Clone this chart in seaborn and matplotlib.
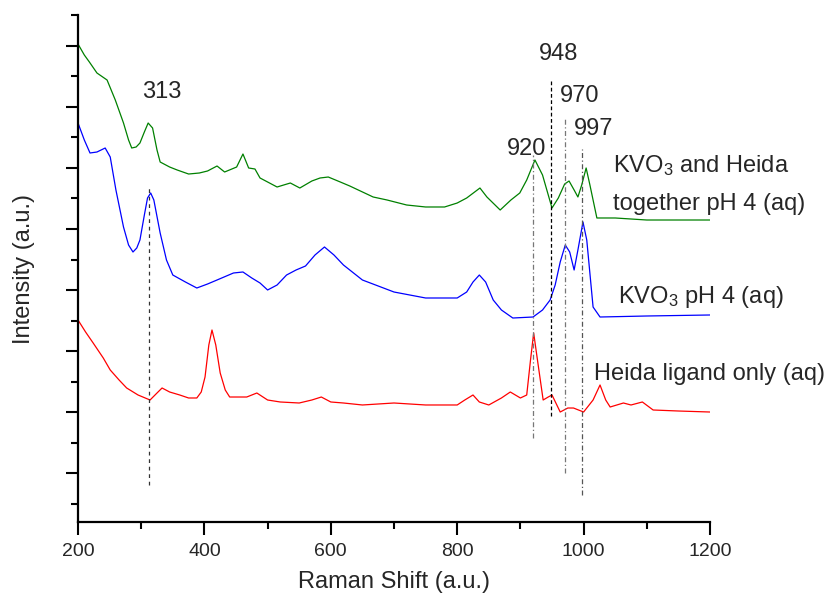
import matplotlib
matplotlib.use("Agg")
import matplotlib.pyplot as plt
from matplotlib.ticker import MultipleLocator
import seaborn as sns
import pandas as pd

# ---- data (y in arbitrary intensity units; one unit = one y tick step) ----
PX0, PXS = 504.0, 30.56  # reading helper: pixel row -> intensity

green_x = [200, 210, 218, 230, 246, 259, 272, 280, 285, 292, 298, 305, 311, 318, 325, 330, 345, 357, 375, 392,
           405, 420, 432, 451, 461, 470, 480, 488, 515, 536, 551, 570, 583, 596, 615, 630, 667, 689, 720, 750,
           780, 800, 815, 836, 847, 868, 885, 899, 910, 923, 935, 950, 960, 970, 977, 985, 991, 997, 1004, 1010,
           1021, 1050, 1100, 1150, 1200]
green_px = [44, 55, 62, 73, 80, 100, 123, 140, 148, 147, 143, 132, 123, 128, 150, 162, 167, 170, 174, 173,
            171, 166, 172, 167, 154, 168, 169, 178, 187, 183, 188, 181, 178, 177, 182, 186, 197, 200, 205, 207,
            207, 203, 198, 188, 197, 210, 200, 193, 180, 160, 175, 208, 198, 184, 181, 190, 197, 185, 168, 185,
            218, 218, 220, 220, 220]

blue_x = [200, 210, 219, 230, 243, 251, 260, 272, 280, 287, 293, 298, 305, 310, 315, 320, 330, 340, 350, 370,
          388, 405, 420, 446, 461, 475, 488, 500, 515, 530, 545, 560, 575, 590, 605, 620, 650, 700, 750, 800,
          815, 825, 835, 845, 857, 870, 888, 920, 935, 947, 955, 963, 971, 978, 985, 991, 999, 1005, 1015, 1026,
          1100, 1200]
blue_px = [123, 140, 153, 152, 148, 157, 190, 227, 245, 252, 248, 240, 215, 198, 193, 200, 233, 260, 275, 282,
           288, 284, 280, 273, 272, 278, 283, 290, 285, 275, 270, 266, 255, 247, 255, 265, 280, 292, 298, 298,
           292, 282, 275, 282, 300, 310, 318, 317, 310, 300, 285, 262, 245, 252, 270, 250, 222, 240, 307, 317,
           316, 315]

red_x = [200, 212, 224, 240, 251, 265, 277, 295, 314, 325, 333, 345, 361, 375, 388, 395, 401, 407, 412, 418,
         425, 433, 440, 467, 483, 500, 520, 550, 570, 585, 600, 620, 650, 700, 750, 800, 812, 825, 835, 850,
         870, 884, 900, 910, 916, 921, 927, 936, 944, 950, 963, 975, 984, 1000, 1015, 1026, 1035, 1042, 1063, 1075,
         1093, 1110, 1150, 1200]
red_px = [320, 332, 343, 358, 370, 380, 388, 395, 400, 393, 388, 392, 395, 398, 398, 392, 377, 345, 330, 345,
          373, 390, 397, 397, 393, 400, 402, 403, 400, 397, 402, 403, 405, 403, 405, 405, 400, 395, 402, 405,
          398, 392, 398, 395, 360, 333, 360, 400, 397, 395, 412, 408, 408, 412, 400, 385, 400, 407, 403, 405,
          402, 410, 411, 412]

green_y = [round((PX0 - p) / PXS, 3) for p in green_px]
blue_y = [round((PX0 - p) / PXS, 3) for p in blue_px]
red_y = [round((PX0 - p) / PXS, 3) for p in red_px]

# marker lines
peak_pos = [313, 920, 948, 970, 997]
peak_top_px = [185, 155, 79, 118, 149]
peak_bot_px = [485, 438, 416, 473, 495]
# label placement (baseline pixel row, centre x in data units)
peak_label_base_px = [98, 155, 60, 102, 135]
peak_label_x = [333, 910, 961, 993, 1016]

series_lines = ["KVO$_3$ and Heida", "together pH 4 (aq)", "KVO$_3$ pH 4 (aq)", "Heida ligand only (aq)"]
series_line_x = [1046, 1046, 1054, 1016]
series_line_base_px = [172, 210, 303, 380]

# ---- style ----
sns.set_style("ticks")
plt.rcParams["font.family"] = ["Liberation Sans", "DejaVu Sans"]
plt.rcParams["mathtext.fontset"] = "custom"
plt.rcParams["mathtext.rm"] = "Liberation Sans"
plt.rcParams["mathtext.it"] = "Liberation Sans"
plt.rcParams["mathtext.default"] = "regular"

W, H = 831, 597
fig = plt.figure(figsize=(W / 100, H / 100), dpi=100)
ax = fig.add_axes([78 / W, (H - 522) / H, (710 - 78) / W, (522 - 15) / H])

def to_y(px):
    return (PX0 - px) / PXS

for xs, ys, c in [(green_x, green_y, "#008000"), (blue_x, blue_y, "#0000FF"), (red_x, red_y, "#FF0000")]:
    df = pd.DataFrame({"x": xs, "y": ys})
    sns.lineplot(data=df, x="x", y="y", color=c, linewidth=0.9, estimator=None, ax=ax)

styles = [((0, (3, 3)), "#333333"), ((0, (4, 2, 1, 2)), "#777777"), ((0, (3, 2)), "#000000"),
          ((0, (4, 2, 1, 2)), "#777777"), ((0, (4, 2, 1, 2)), "#555555")]
for pos, t, b, (ls, c) in zip(peak_pos, peak_top_px, peak_bot_px, styles):
    ax.plot([pos, pos], [to_y(b), to_y(t)], linestyle=ls, color=c, linewidth=0.9)

for pos, lx, ly in zip(peak_pos, peak_label_x, peak_label_base_px):
    ax.text(lx, to_y(ly), str(pos), ha="center", va="baseline", fontsize=17)

for txt, lx, ly in zip(series_lines, series_line_x, series_line_base_px):
    ax.text(lx, to_y(ly), txt, ha="left", va="baseline", fontsize=17)

ax.set_xlim(200, 1200)
ax.set_ylim(to_y(522), to_y(15))
ax.xaxis.set_major_locator(MultipleLocator(200))
ax.xaxis.set_minor_locator(MultipleLocator(100))
ax.set_yticks([1, 3, 5, 7, 9, 11, 13, 15])
ax.set_yticks([0, 2, 4, 6, 8, 10, 12, 14, 16], minor=True)
ax.set_yticklabels([])
ax.tick_params(axis="both", which="major", direction="out", length=9, width=1.5, labelsize=14, color="black")
ax.tick_params(axis="both", which="minor", direction="out", length=5, width=1.5, color="black")
ax.tick_params(axis="x", pad=6)
sns.despine(ax=ax)
for s in ["left", "bottom"]:
    ax.spines[s].set_linewidth(1.6)
    ax.spines[s].set_color("black")

ax.set_xlabel("Raman Shift (a.u.)", fontsize=17)
ax.set_ylabel("Intensity (a.u.)", fontsize=17)
ax.xaxis.set_label_coords(0.5, -(571 - 522) / 507)
ax.yaxis.set_label_coords(-(78 - 35) / 632, 0.5)

fig.savefig("out.png", dpi=100)
